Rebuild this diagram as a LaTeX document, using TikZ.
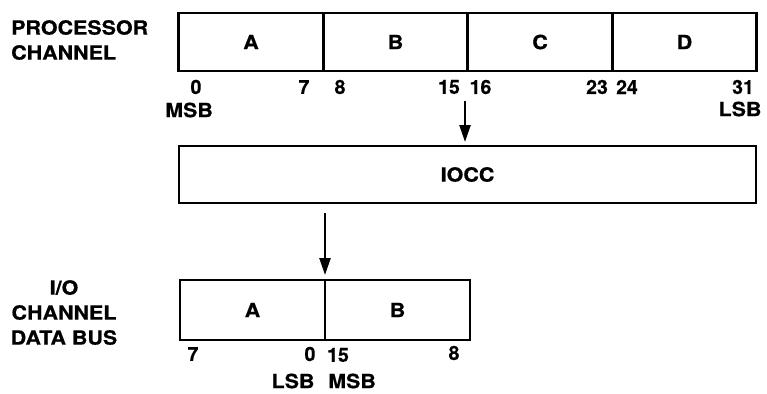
\documentclass[tikz,border=0pt]{standalone}
\usepackage{fontspec}
\setmainfont{TeX Gyre Heros}[FakeBold=0.6]
\newfontfamily\wordfont{TeX Gyre Heros}[FakeStretch=1.1, FakeBold=0.6]
\usetikzlibrary{arrows.meta, positioning}

\begin{document}
\begin{tikzpicture}[x=1pt, y=-1pt,
		field/.style={draw, line width=2.8pt, rectangle, inner sep=0pt, outer sep=0pt, minimum width=144.5pt, minimum height=58pt, font=\wordfont\bfseries\fontsize{19.5}{19.5}\selectfont},
		bitno/.style={inner sep=0pt, font=\bfseries\fontsize{19.5}{19.5}\selectfont},
		word/.style={inner sep=0pt, font=\wordfont\bfseries\fontsize{19.5}{25}\selectfont},
		flow/.style={line width=2.4pt, -{Triangle[length=17pt, width=11pt]}}]
		% Frame
		\useasboundingbox (0,0) rectangle (767,393);
		
		% Processor channel
		\node[word, anchor=west, align=left] (pclbl) at (11,40) {PROCESSOR\\CHANNEL};
		\node[field] (pa) at (251,42) {A};
		\node[field, right=0pt of pa] (pb) {B};
		\node[field, right=0pt of pb] (pc) {C};
		\node[field, right=0pt of pc] (pd) {D};
		
		% Bit numbers
		\node[bitno] (p0) at (196,87) {0};
		\node[bitno] (p7) at (304,87) {7};
		\node[bitno] (p8) at (340,87) {8};
		\node[bitno] (p15) at (449,87) {15};
		\node[bitno] (p16) at (480.5,87) {16};
		\node[bitno] (p23) at (597,87) {23};
		\node[bitno] (p24) at (627,87) {24};
		\node[bitno] (p31) at (743,87) {31};
		\node[word] (pmsb) at (189,110) {MSB};
		\node[word] (plsb) at (740,109) {LSB};
		
		% IOCC
		\node[field, minimum width=577pt, minimum height=57pt] (iocc) at (467.5,174.5) {IOCC};
		\coordinate (tap) at (465,101);
		\draw[flow, shorten >=4pt] (tap) -- (tap |- iocc.north);
		
		% I/O channel data bus
		\node[word, align=center] (iolbl) at (64,312.5) {I/O\\CHANNEL\\DATA BUS};
		\node[field, minimum width=145pt, minimum height=60pt] (ba) at (252.5,310) {A};
		\node[field, minimum width=145pt, minimum height=60pt, right=0pt of ba] (bb) {B};
		\coordinate (drop) at (ba.north east |- 0,213);
		\draw[flow, shorten >=5pt] (drop) -- (ba.north east);
		
		\node[bitno] (b7) at (193,354) {7};
		\node[bitno] (b0) at (310,354) {0};
		\node[bitno] (b15) at (338,355) {15};
		\node[bitno] (b8) at (454,353) {8};
		\node[word] (blsb) at (293,381) {LSB};
		\node[word] (bmsb) at (352,381) {MSB};
	\end{tikzpicture}
\end{document}
